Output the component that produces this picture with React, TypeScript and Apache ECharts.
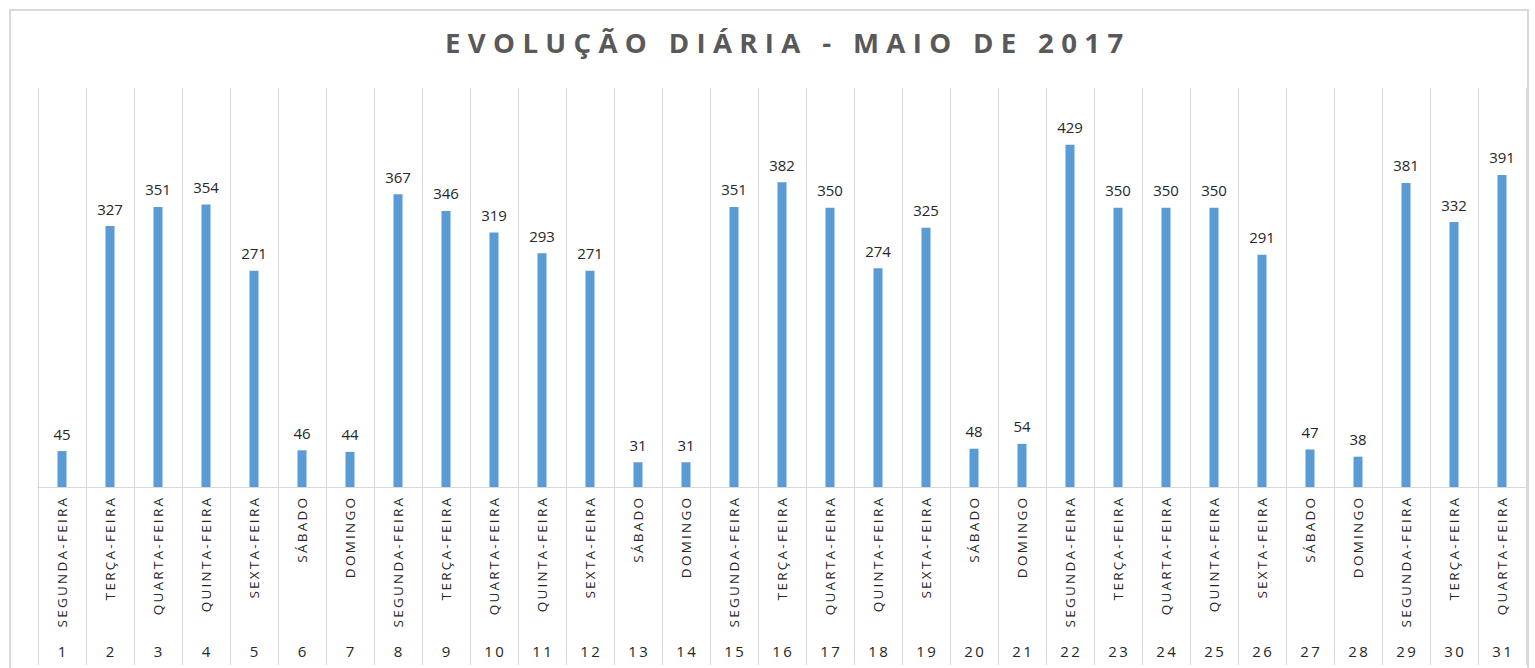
import React, { useEffect, useRef } from "react";
import * as echarts from "echarts";

const titleText = "EVOLUÇÃO DIÁRIA - MAIO DE 2017";
const days = ["1","2","3","4","5","6","7","8","9","10","11","12","13","14","15","16","17","18","19","20","21","22","23","24","25","26","27","28","29","30","31"];
const weekdays = [
  "SEGUNDA-FEIRA","TERÇA-FEIRA","QUARTA-FEIRA","QUINTA-FEIRA","SEXTA-FEIRA","SÁBADO","DOMINGO",
  "SEGUNDA-FEIRA","TERÇA-FEIRA","QUARTA-FEIRA","QUINTA-FEIRA","SEXTA-FEIRA","SÁBADO","DOMINGO",
  "SEGUNDA-FEIRA","TERÇA-FEIRA","QUARTA-FEIRA","QUINTA-FEIRA","SEXTA-FEIRA","SÁBADO","DOMINGO",
  "SEGUNDA-FEIRA","TERÇA-FEIRA","QUARTA-FEIRA","QUINTA-FEIRA","SEXTA-FEIRA","SÁBADO","DOMINGO",
  "SEGUNDA-FEIRA","TERÇA-FEIRA","QUARTA-FEIRA",
];
const values = [45,327,351,354,271,46,44,367,346,319,293,271,31,31,351,382,350,274,325,48,54,429,350,350,350,291,47,38,381,332,391];

const spaced = (s: string, sp: string) => s.split("").join(sp);

export default function App() {
  const ref = useRef<HTMLDivElement>(null);
  useEffect(() => {
    if (!ref.current) return;
    const chart = echarts.init(ref.current, undefined, { renderer: "svg" });
    const font = "'Open Sans', 'Noto Sans', sans-serif";
    chart.setOption({
      animation: false,
      backgroundColor: "#ffffff",
      title: {
        text: spaced(titleText, "\u2009\u200A"),
        left: 440,
        top: 23,
        textStyle: { fontFamily: font, fontSize: 27.6, fontWeight: "bold", color: "#595959" },
      },
      graphic: [
        {
          type: "rect",
          shape: { x: 10, y: 10, width: 1518, height: 700 },
          style: { fill: "none", stroke: "#d9d9d9", lineWidth: 2 },
          silent: true,
        },
      ],
      grid: { left: 38, right: 9, top: 88, bottom: 181, containLabel: false },
      xAxis: [
        {
          type: "category",
          data: days,
          position: "bottom",
          axisLine: { show: true, lineStyle: { color: "#d9d9d9", width: 1 } },
          axisTick: { show: true, interval: 0, length: 178, lineStyle: { color: "#d9d9d9", width: 1 } },
          splitLine: { show: true, interval: 0, lineStyle: { color: "#d9d9d9", width: 1 } },
          axisLabel: {
            interval: 0,
            rotate: 90,
            margin: 11,
            fontFamily: font,
            fontSize: 13.5,
            color: "#262626",
            formatter: (_v: string, i: number) => spaced(weekdays[i], "\u2009"),
          },
        },
        {
          type: "category",
          data: days,
          position: "bottom",
          offset: 148,
          axisLine: { show: false },
          axisTick: { show: false },
          splitLine: { show: false },
          axisLabel: {
            interval: 0,
            fontFamily: font,
            fontSize: 15,
            color: "#262626",
            formatter: (v: string) => spaced(v, "\u2009"),
          },
        },
      ],
      yAxis: {
        type: "value",
        min: 0,
        max: 500,
        show: false,
        splitLine: { show: false },
      },
      series: [
        {
          type: "bar",
          xAxisIndex: 0,
          data: values,
          barWidth: 9,
          itemStyle: { color: "#5b9bd5" },
          label: {
            show: true,
            position: "top",
            distance: 10,
            fontFamily: font,
            fontSize: 15,
            color: "#262626",
          },
        },
      ],
    });
    return () => chart.dispose();
  }, []);
  return (
    <div
      ref={ref}
      style={{ position: "absolute", left: 0, top: 0, width: 1535, height: 668 }}
    />
  );
}
